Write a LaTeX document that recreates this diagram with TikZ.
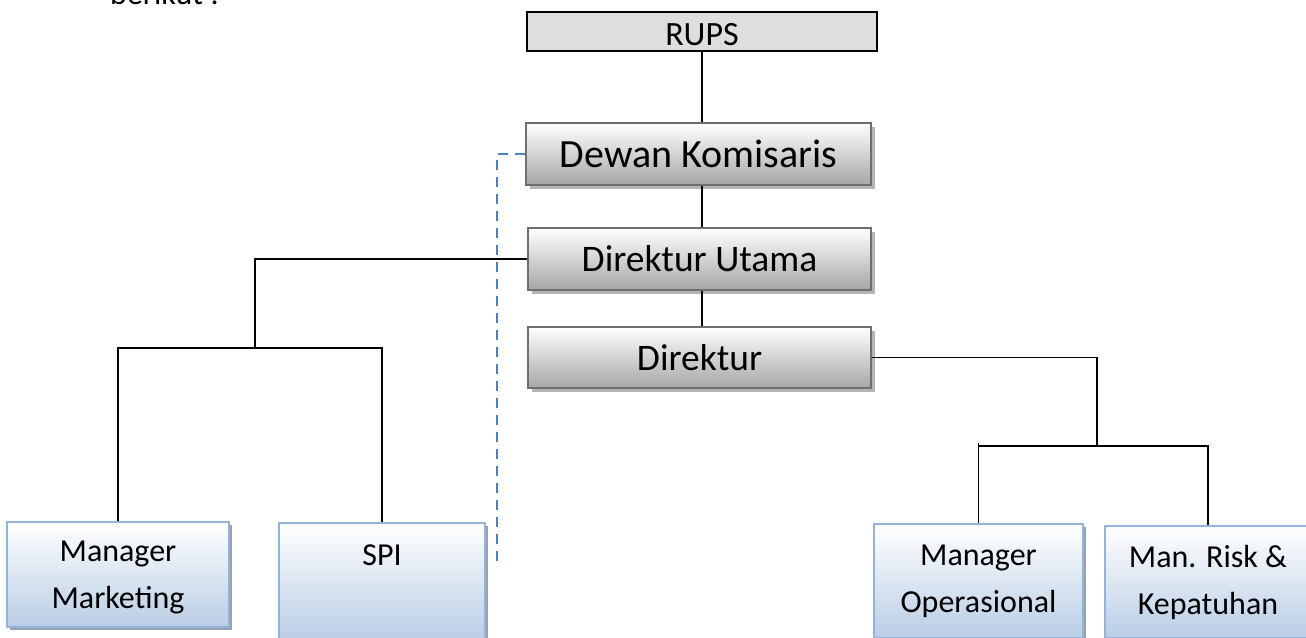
\documentclass[tikz,border=0pt]{standalone}
\usepackage{fontspec}
\setmainfont{Carlito}
\usetikzlibrary{shadows}
\definecolor{bluebd}{HTML}{95B3D7}
\definecolor{bluebot}{HTML}{B9CDE5}
\definecolor{graybd}{HTML}{6E6E6E}
\definecolor{graybot}{HTML}{A6A6A6}
\definecolor{dashblue}{HTML}{4F81BD}
\definecolor{rupsfill}{HTML}{DEDEDE}
\definecolor{grayshadow}{HTML}{B4B4B4}
\definecolor{blueshadow}{HTML}{95A2B4}
\tikzset{
  conn/.style={draw=black, line width=1.6pt},
  dashline/.style={draw=dashblue, line width=1.8pt, dash pattern=on 10pt off 7pt},
  rupsbox/.style={draw=black, line width=1.8pt, fill=rupsfill, inner sep=0pt,
    minimum width=350pt, minimum height=39pt, text height=27pt, text depth=0pt,
    font=\fontsize{34}{40}\selectfont},
  graybox/.style={draw=graybd, line width=1.8pt, top color=white, bottom color=graybot,
    inner sep=0pt, minimum width=343pt, minimum height=62pt,
    drop shadow={shadow xshift=4pt, shadow yshift=-4pt, opacity=1, fill=grayshadow},
    font=\fontsize{37.5}{44}\selectfont},
  bluebox/.style={draw=bluebd, line width=1.8pt, top color=white, bottom color=bluebot,
    inner sep=0pt, align=center,
    drop shadow={shadow xshift=3pt, shadow yshift=-3pt, opacity=1, fill=blueshadow},
    font=\fontsize{32}{47}\selectfont},
}
\begin{document}
\begin{tikzpicture}[x=1pt,y=-1pt]
\clip (0,0) rectangle (1306,637);
\fill[white] (0,0) rectangle (1306,637);
\node[anchor=base west, inner sep=0pt, font=\fontsize{32}{38}\selectfont] (ber) at (110,5) {berikut :};
\node[rupsbox] (rups) at (702,31.5) {RUPS};
\node[graybox, minimum width=345pt, font=\fontsize{40}{46}\selectfont] (dk) at (698.5,154) {Dewan Komisaris};
\node[graybox] (du) at (699.5,259) {Direktur Utama};
\node[graybox, minimum height=61pt] (dir) at (699.5,357.5) {Direktur};
\node[bluebox, minimum width=222pt, minimum height=105pt, text height=74pt, text depth=6.3pt] (mm) at (118,574.5) {Manager\\Marketing};
\node[bluebox, minimum width=206pt, minimum height=117pt, text height=61pt, text depth=0pt] (spi) at (382,581.5) {SPI\\\mbox{}};
\node[bluebox, minimum width=209pt, minimum height=114pt] (mo) at (978.5,581) {Manager\\Operasional};
\node[bluebox, minimum width=206pt, minimum height=112pt] (mrk) at (1208,582) {Man. Risk \&\\Kepatuhan};
\coordinate (lbar) at (255,348);
\coordinate (rbar) at (1097,446);
\coordinate (stub) at (0,443);
\coordinate (dashend) at (497,565);
\draw[conn] (rups.south) -- (rups.south |- dk.north);
\draw[conn] (dk.south -| rups.south) -- (du.north -| rups.south);
\draw[conn] (du.south -| rups.south) -- (dir.north -| rups.south);
\draw[conn] (du.west) -| (lbar);
\draw[conn] (mm.north) |- (lbar) -| (spi.north);
\draw[conn] (dir.east) -| (rbar);
\draw[conn] (mo.north) |- (rbar) -| (mrk.north);
\draw[conn] (mo.north) -- (mo.north |- stub);
\draw[dashline] (dk.west) -| (dashend);
\end{tikzpicture}
\end{document}
